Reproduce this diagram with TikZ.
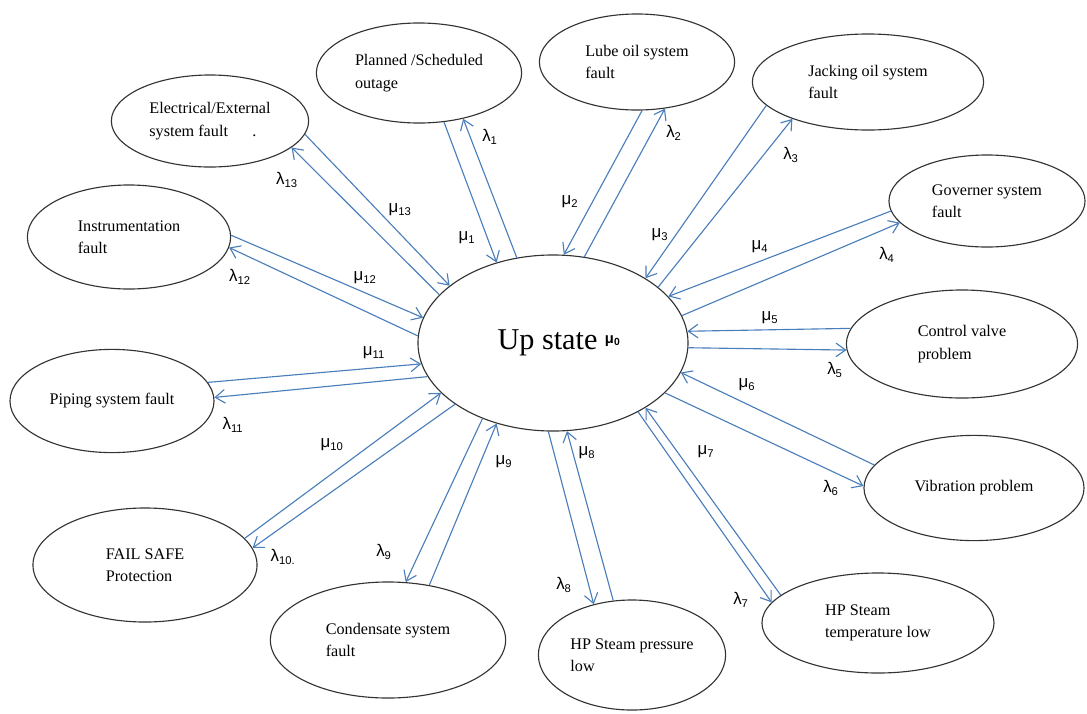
\documentclass[tikz,border=0pt]{standalone}
\usepackage{fontspec}
\setmainfont{Liberation Serif}
\newfontfamily\grk{Liberation Sans}
\usetikzlibrary{arrows.meta,shapes.geometric}
\definecolor{flowblue}{RGB}{74,126,187}

\begin{document}
\begin{tikzpicture}[x=0.025cm, y=-0.025cm,
  state/.style={ellipse, draw=black!80, line width=0.8pt, inner sep=0pt, align=left, font=\fontsize{11.5}{16}\selectfont},
  flow/.style={draw=flowblue, line width=0.8pt, -{Straight Barb[length=2.4mm,width=3.4mm]}},
  rate/.style={inner sep=0pt, font=\grk\fontsize{12}{12}\selectfont}]
\useasboundingbox (0,0) rectangle (1087,713);

\node[state, minimum width=6.75cm, minimum height=4.4cm, font=\fontsize{21.5}{24}\selectfont] (up) at (553,343) {\hspace*{0.3cm}Up state \raisebox{.45ex}{\grk\bfseries\fontsize{10.5}{10.5}\selectfont μ\textsubscript{0}}};
\node[state, minimum width=5.13cm, minimum height=2.5cm] (p1) at (419,73) {Planned /Scheduled\\outage};
\node[state, minimum width=4.88cm, minimum height=2.4cm] (l2) at (637,62) {Lube oil system\\fault};
\node[state, minimum width=5.78cm, minimum height=2.4cm] (j3) at (868,82) {Jacking oil system\\fault};
\node[state, minimum width=4.9cm, minimum height=2.3cm] (g4) at (987,201) {Governer system\\fault};
\node[state, minimum width=5.78cm, minimum height=2.7cm] (c5) at (962,344) {Control valve\\problem};
\node[state, minimum width=5.5cm, minimum height=2.63cm] (v6) at (974,488) {Vibration problem};
\node[state, minimum width=5.8cm, minimum height=2.5cm] (t7) at (878,623) {HP Steam\\temperature low};
\node[state, minimum width=4.68cm, minimum height=2.75cm] (s8) at (632,655) {HP Steam pressure\\low};
\node[state, minimum width=5.88cm, minimum height=2.9cm] (c9) at (388,640) {Condensate system\\fault};
\node[state, minimum width=5.6cm, minimum height=2.85cm] (f10) at (145,565) {FAIL SAFE\\Protection};
\node[state, minimum width=5.1cm, minimum height=2.58cm] (p11) at (112,401) {Piping system fault};
\node[state, minimum width=5.08cm, minimum height=2.6cm] (i12) at (129,237) {Instrumentation\\fault};
\node[state, minimum width=4.93cm, minimum height=2.3cm] (e13) at (210,121) {Electrical/External\\system fault\hspace{1.5em}.};

\draw[flow] (p1.-63.9) -- (up.125);
\draw[flow] (up.113.5) -- (p1.-46.3);
\draw[flow] (l2.-84.3) -- (up.83);
\draw[flow] (up.70) -- (l2.-59.8);
\draw[flow] (j3.-167) -- (up.35.4);
\draw[flow] (up.28.5) -- (j3.-154.1);
\draw[flow] (g4.-174.8) -- (up.22.1);
\draw[flow] (up.12) -- (g4.-166.1);
\draw[flow] (c5.172.85) -- (up.5.56);
\draw[flow] (up.-2.98) -- (c5.183);
\draw[flow] (v6.167.4) -- (up.-13.3);
\draw[flow] (up.-24.7) -- (v6.179.5);
\draw[flow] (t7.164.2) -- (up.-35.2);
\draw[flow] (up.-39.8) -- (t7.169.5);
\draw[flow] (s8.109.9) -- (up.-81.3);
\draw[flow] (up.-93.9) -- (s8.127.6);
\draw[flow] (up.-133.8) -- (c9.73.7);
\draw[flow] (c9.53.4) -- (up.-125);
\draw[flow] (f10.15.9) -- (up.-156.1);
\draw[flow] (up.-148.6) -- (f10.9.2);
\draw[flow] (p11.11.6) -- (up.-171.9);
\draw[flow] (up.-165) -- (p11.2.2);
\draw[flow] (i12.1.1) -- (up.169.4);
\draw[flow] (up.177.5) -- (i12.-6.5);
\draw[flow] (e13.-8.7) -- (up.151.5);
\draw[flow] (up.157.7) -- (e13.-18.7);

\node[rate] (la1) at (490,137) {λ\textsubscript{1}};
\node[rate] (mu1) at (467,238) {μ\textsubscript{1}};
\node[rate] (la2) at (674,133) {λ\textsubscript{2}};
\node[rate] (mu2) at (570,202) {μ\textsubscript{2}};
\node[rate] (la3) at (791,155) {λ\textsubscript{3}};
\node[rate] (mu3) at (660,235) {μ\textsubscript{3}};
\node[rate] (la4) at (887,255) {λ\textsubscript{4}};
\node[rate] (mu4) at (760,247) {μ\textsubscript{4}};
\node[rate] (la5) at (835,370) {λ\textsubscript{5}};
\node[rate] (mu5) at (770,318) {μ\textsubscript{5}};
\node[rate] (la6) at (831,488) {λ\textsubscript{6}};
\node[rate] (mu6) at (747,385) {μ\textsubscript{6}};
\node[rate] (la7) at (741,600) {λ\textsubscript{7}};
\node[rate] (mu7) at (706,452) {μ\textsubscript{7}};
\node[rate] (la8) at (564,585) {λ\textsubscript{8}};
\node[rate] (mu8) at (587,453) {μ\textsubscript{8}};
\node[rate] (la9) at (384,552) {λ\textsubscript{9}};
\node[rate] (mu9) at (504,462) {μ\textsubscript{9}};
\node[rate] (la10) at (283,557) {λ\textsubscript{10.}};
\node[rate] (mu10) at (332,445) {μ\textsubscript{10}};
\node[rate] (la11) at (233,425) {λ\textsubscript{11}};
\node[rate] (mu11) at (374,353) {μ\textsubscript{11}};
\node[rate] (la12) at (240,277) {λ\textsubscript{12}};
\node[rate] (mu12) at (365,278) {μ\textsubscript{12}};
\node[rate] (la13) at (287,180) {λ\textsubscript{13}};
\node[rate] (mu13) at (400,210) {μ\textsubscript{13}};
\end{tikzpicture}
\end{document}
